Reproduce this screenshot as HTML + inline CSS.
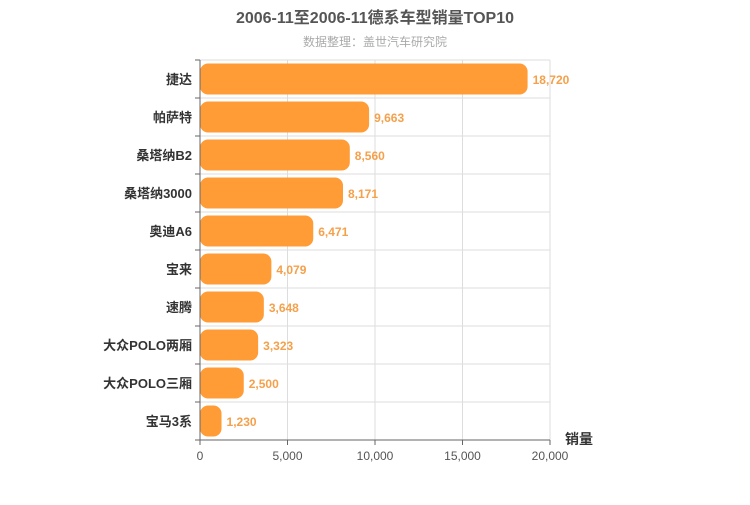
<!DOCTYPE html>
<html><head><meta charset="utf-8"><style>
body{margin:0;background:#fff;font-family:"Liberation Sans","Noto Sans CJK SC",sans-serif}
</style></head><body>
<svg width="750" height="500" xmlns="http://www.w3.org/2000/svg" font-family="Liberation Sans, Noto Sans CJK SC, sans-serif">
<text x="375" y="23" text-anchor="middle" font-size="16" font-weight="bold" fill="#555">2006-11至2006-11德系车型销量TOP10</text>
<text x="375" y="46" text-anchor="middle" font-size="12" fill="#aaa">数据整理：盖世汽车研究院</text>
<g id="grid"></g><g id="bars"></g><g id="axes"></g>
<text x="565" y="444" font-size="14" font-weight="bold" fill="#333">销量</text>
</svg>
<script>
const categories=["捷达","帕萨特","桑塔纳B2","桑塔纳3000","奥迪A6","宝来","速腾","大众POLO两厢","大众POLO三厢","宝马3系"];
const values=[18720,9663,8560,8171,6471,4079,3648,3323,2500,1230];
const xTicks=[0,5000,10000,15000,20000];
const NS="http://www.w3.org/2000/svg";
const x0=200,x1=550,yTop=60,yBot=440,xMax=20000;
const xs=v=>x0+v/xMax*(x1-x0);
const rowH=(yBot-yTop)/categories.length;
function mk(t,a,p,txt){const e=document.createElementNS(NS,t);for(const k in a)e.setAttribute(k,a[k]);if(txt!==undefined)e.textContent=txt;document.getElementById(p).appendChild(e);return e;}
xTicks.forEach(t=>{if(t>0){const l=mk('line',{x1:xs(t),x2:xs(t),y1:yTop,y2:yBot,stroke:'#ddd'},'grid');}
const tk=mk('line',{x1:xs(t),x2:xs(t),y1:yBot,y2:yBot+5,stroke:'#666'},'axes');
const tl=mk('text',{x:xs(t),y:yBot+20,'text-anchor':'middle','font-size':12,fill:'#555'},'axes',t.toLocaleString('en-US'));});
for(let i=0;i<=categories.length;i++){const y=yTop+i*rowH;
if(i<categories.length){const g=mk('line',{x1:x0,x2:x1,y1:y,y2:y,stroke:'#ddd'},'grid');}
const tk=mk('line',{x1:x0-5,x2:x0,y1:y,y2:y,stroke:'#666'},'axes');}
categories.forEach((c,i)=>{const yc=yTop+(i+0.5)*rowH;
const b=mk('rect',{x:x0,y:yc-15.5,width:xs(values[i])-x0,height:31,rx:8,fill:'#ff9c36'},'bars');
const v=mk('text',{x:xs(values[i])+5,y:yc+5,'font-size':12,'font-weight':'bold',fill:'#f5a04a'},'bars',values[i].toLocaleString('en-US'));
const l=mk('text',{x:x0-8,y:yc+5,'text-anchor':'end','font-size':13,'font-weight':'bold',fill:'#333'},'axes',c);});
const ax=mk('line',{x1:x0,x2:x0,y1:yTop,y2:yBot,stroke:'#666'},'axes');
const bx=mk('line',{x1:x0,x2:x1,y1:yBot,y2:yBot,stroke:'#666'},'axes');
</script></body></html>
